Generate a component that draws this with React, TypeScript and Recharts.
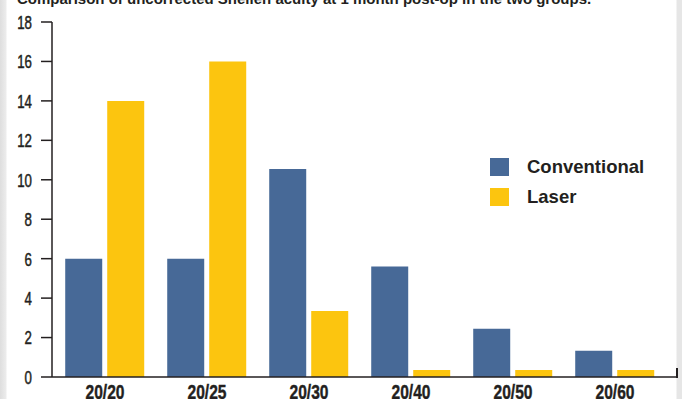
import React from 'react';
import { BarChart, Bar, XAxis, YAxis } from 'recharts';

const categories = ['20/20', '20/25', '20/30', '20/40', '20/50', '20/60'];
const conventional = [6, 6, 10.55, 5.6, 2.45, 1.33];
const laser = [14, 16, 3.35, 0.35, 0.35, 0.35];
const yTicks = [0, 2, 4, 6, 8, 10, 12, 14, 16, 18];

const BLUE = '#476997';
const YELLOW = '#fcc50f';
const INK = '#231f20';
const SANS = '"Liberation Sans", Arial, sans-serif';

const data = categories.map((name, i) => ({
  name,
  conventional: conventional[i],
  laser: laser[i],
}));

const legendItems = [
  { label: 'Conventional', color: BLUE },
  { label: 'Laser', color: YELLOW },
];

// condensed look: squeeze Liberation Sans horizontally
const YTick = (props: any) => {
  const { x, y, payload } = props;
  return (
    <text
      transform={`translate(${x},${y}) scale(0.7,1)`}
      textAnchor="end"
      dy="0.36em"
      fill={INK}
      stroke={INK}
      strokeWidth={0.5}
      fontFamily={SANS}
      fontSize={19}
    >
      {payload.value}
    </text>
  );
};

const XTick = (props: any) => {
  const { x, y, payload } = props;
  return (
    <text
      transform={`translate(${x},${y}) scale(0.78,1)`}
      textAnchor="middle"
      dy="0.71em"
      fill={INK}
      stroke={INK}
      strokeWidth={0.4}
      fontFamily={SANS}
      fontWeight="bold"
      fontSize={20}
    >
      {payload.value}
    </text>
  );
};

export default function App() {
  return (
    <div
      style={{
        position: 'absolute',
        left: 0,
        top: 0,
        width: 682,
        height: 399,
        overflow: 'hidden',
        background: 'linear-gradient(to right, #dedede 0px, #ececec 6px, #fff 7px, #fff 676px, #e6e6e6 677px, #e6e6e6 682px)',
      }}
    >
      <div
        style={{
          position: 'absolute',
          left: 17,
          top: -10,
          fontFamily: SANS,
          fontWeight: 'bold',
          fontSize: 15,
          color: INK,
          whiteSpace: 'nowrap',
        }}
      >
        Comparison of uncorrected Snellen acuity at 1 month post-op in the two groups.
      </div>
      <BarChart
        width={682}
        height={399}
        data={data}
        margin={{ top: 22, right: 5, left: 0, bottom: 0 }}
        barCategoryGap="11%"
        barGap={5}
      >
        <XAxis
          dataKey="name"
          height={22}
          padding={{ left: 2, right: 11 }}
          axisLine={{ stroke: INK, strokeWidth: 1.5 }}
          tickLine={false}
          tickSize={0}
          tickMargin={8}
          tick={<XTick />}
        />
        <YAxis
          width={52}
          domain={[0, 18]}
          ticks={yTicks}
          interval={0}
          axisLine={{ stroke: INK, strokeWidth: 1.5 }}
          tickLine={{ stroke: INK, strokeWidth: 1.5 }}
          tickSize={11}
          tickMargin={9}
          tick={<YTick />}
        />
        <Bar dataKey="conventional" name="Conventional" fill={BLUE} isAnimationActive={false} />
        <Bar dataKey="laser" name="Laser" fill={YELLOW} isAnimationActive={false} />
      </BarChart>
      <div
        style={{
          position: 'absolute',
          left: 490,
          top: 152,
          fontFamily: SANS,
          fontWeight: 'bold',
          fontSize: 18.5,
          color: INK,
        }}
      >
        {legendItems.map((it) => (
          <div key={it.label} style={{ display: 'flex', alignItems: 'center', height: 30 }}>
            <span style={{ width: 19, height: 18, background: it.color, display: 'inline-block', marginRight: 18 }} />
            <span>{it.label}</span>
          </div>
        ))}
      </div>
      <div style={{ position: 'absolute', left: 676, top: 368, width: 1.5, height: 10, background: INK }} />
    </div>
  );
}
